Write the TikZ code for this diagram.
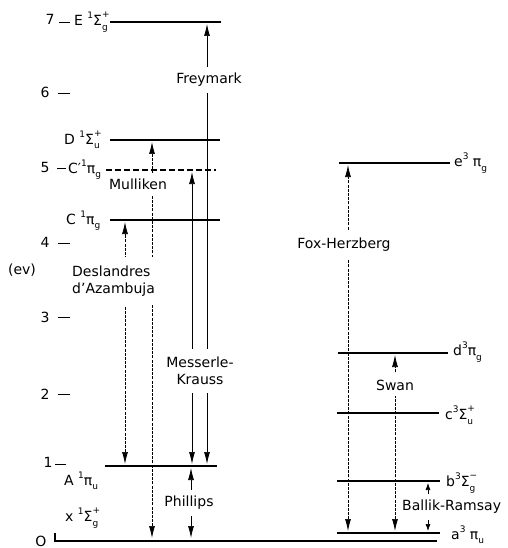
\documentclass[tikz,border=0pt]{standalone}
\usepackage{fontspec}
\setmainfont{DejaVu Sans}
\usetikzlibrary{arrows.meta}
\newcommand\supsub[2]{\rlap{\raisebox{0.55em}{\fontsize{9}{9}\selectfont #2}}\raisebox{-0.32em}{\fontsize{9}{9}\selectfont #1}}
\newcommand\supr[1]{\raisebox{0.5em}{\fontsize{9}{9}\selectfont #1}}
\newcommand\subr[1]{\raisebox{-0.3em}{\fontsize{9}{9}\selectfont #1}}
\begin{document}
\begin{tikzpicture}[x=1pt,y=-1pt,
  level/.style={line width=1.8pt},
  trans/.style={line width=0.7pt, {Latex[length=12pt,width=6pt]}-{Latex[length=12pt,width=6pt]}},
  smalltrans/.style={line width=0.7pt, {Latex[length=7pt,width=5pt]}-{Latex[length=7pt,width=5pt]}},
  dotty/.style={dash pattern=on 3pt off 1.2pt},
  lab/.style={font=\fontsize{14}{17}\selectfont, inner sep=1pt},
  tlab/.style={lab, fill=white, inner xsep=1pt, inner ysep=6pt},
  tickmark/.style={line width=0.9pt}]
\useasboundingbox (0,0) rectangle (507,548);

% ---- axis ----
\node[lab] (n7) at (50,19) {7};
\node[lab] (n6) at (45,92) {6};
\node[lab] (n5) at (45,167) {5};
\node[lab] (n4) at (45,242) {4};
\node[lab] (n3) at (45,317) {3};
\node[lab] (n2) at (45,394) {2};
\node[lab] (n1) at (48,462) {1};
\node[lab] (n0) at (41,541) {O};
\node[lab] (ev) at (22,270) {(ev)};
\draw[tickmark] (59,22) -- (70,22);
\draw[tickmark] (58,93) -- (70,93);
\draw[tickmark] (57,168) -- (66,168);
\draw[tickmark] (58,243) -- (70,243);
\draw[tickmark] (58,317) -- (70,317);
\draw[tickmark] (58,394) -- (70,394);
\draw[tickmark] (55,464) -- (66,464);

% ---- singlet levels ----
\draw[level] (110,22) -- (221,22);
\draw[level] (110,140) -- (220,140);
\draw[level, dash pattern=on 6pt off 3pt] (106,170) -- (216,170);
\draw[level] (110,220) -- (220,220);
\draw[level] (105,466) -- (217,466);
\draw[line width=1.5pt] (55,533) -- (55,541) -- (437,541);

% ---- triplet levels ----
\draw[level] (339,163) -- (450,163);
\draw[level] (338,353) -- (448,353);
\draw[level] (337,413) -- (439,413);
\draw[level] (337,481) -- (440,481);
\draw[level] (337,533) -- (440,533);

% ---- level labels ----
\node[lab, anchor=west] (Elab) at (73,22) {E \supr{1}Σ\supsub{g}{+}};
\node[lab, anchor=west] (Dlab) at (63,140) {D \supr{1}Σ\supsub{u}{+}};
\node[lab, anchor=west] (Cplab) at (67,170) {C′\supr{1}π\subr{g}};
\node[lab, anchor=west] (Clab) at (65,221) {C \supr{1}π\subr{g}};
\node[lab, anchor=west] (Alab) at (63,481) {A \supr{1}π\subr{u}};
\node[lab, anchor=west] (Xlab) at (64,518) {x \supr{1}Σ\supsub{g}{+}};
\node[lab, anchor=west] (elab) at (453,163) {e\supr{3} π\subr{g}};
\node[lab, anchor=west] (dlab) at (452,352) {d\supr{3}π\subr{g}};
\node[lab, anchor=west] (clab) at (444,415) {c\supr{3}Σ\supsub{u}{+}};
\node[lab, anchor=west] (blab) at (445,483) {b\supr{3}Σ\supsub{g}{−}};
\node[lab, anchor=west] (alab) at (450,535) {a\supr{3} π\subr{u}};

% ---- transitions ----
\coordinate (fr-a) at (207,464); \coordinate (fr-b) at (207,24);
\coordinate (mk-a) at (192,464); \coordinate (mk-b) at (192,172);
\coordinate (mu-a) at (152,538); \coordinate (mu-b) at (152,142);
\coordinate (de-a) at (125,464); \coordinate (de-b) at (125,222);
\coordinate (ph-a) at (191,538); \coordinate (ph-b) at (191,468);
\coordinate (fo-a) at (348,531); \coordinate (fo-b) at (348,165);
\coordinate (sw-a) at (395,531); \coordinate (sw-b) at (395,355);
\coordinate (br-a) at (428,531); \coordinate (br-b) at (428,483);

\draw[trans] (fr-a) -- (fr-b);
\draw[trans] (mk-a) -- (mk-b);
\draw[trans, dotty] (mu-a) -- (mu-b);
\draw[trans, dotty] (de-a) -- (de-b);
\draw[trans] (ph-a) -- (ph-b);
\draw[trans, dotty] (fo-a) -- (fo-b);
\draw[trans, dotty] (sw-a) -- (sw-b);
\draw[smalltrans] (br-a) -- (br-b);

% ---- transition labels ----
\node[tlab] (frey) at (209,80) {Freymark};
\node[tlab] (mull) at (138,184) {Mulliken};
\node[tlab, anchor=west, align=left, inner xsep=3pt, inner ysep=9pt] (desl) at (69,281) {Deslandres\\d'Azambuja};
\node[tlab, align=center, inner ysep=8pt] (mess) at (200,371) {Messerle-\\Krauss};
\node[tlab] (phil) at (189,503) {Phillips};
\node[tlab, inner ysep=8pt] (foxh) at (344,245) {Fox-Herzberg};
\node[tlab] (swan) at (395,385) {Swan};
\node[tlab, anchor=west] (ball) at (401,507) {Ballik-Ramsay};
\end{tikzpicture}
\end{document}
